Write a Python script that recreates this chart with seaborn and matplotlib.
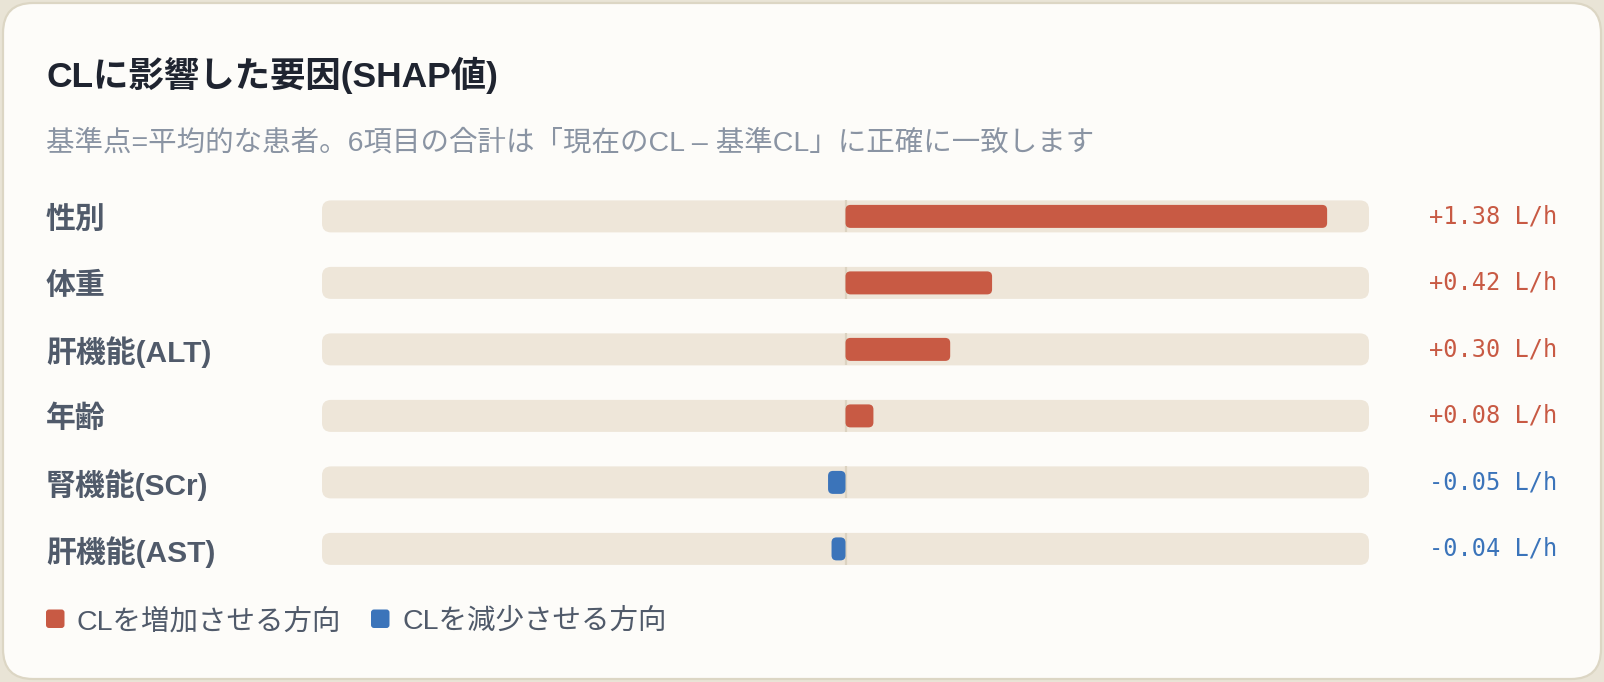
import numpy as np
import pandas as pd
import matplotlib
matplotlib.use("Agg")
import matplotlib.pyplot as plt
from matplotlib.patches import FancyBboxPatch
from matplotlib.transforms import blended_transform_factory
import seaborn as sns

# ---------------- data ----------------
features = ["性別", "体重", "肝機能(ALT)", "年齢", "腎機能(SCr)", "肝機能(AST)"]
shap_values = [1.38, 0.42, 0.30, 0.08, -0.05, -0.04]
title = "CLに影響した要因(SHAP値)"
subtitle = "基準点=平均的な患者。6項目の合計は「現在のCL – 基準CL」に正確に一致します"
legend_labels = ["CLを増加させる方向", "CLを減少させる方向"]
unit = "L/h"

# ---------------- style ----------------
sns.set_theme(style="white")
FAM = ["Liberation Sans", "Noto Sans CJK JP", "DejaVu Sans"]
plt.rcParams["font.family"] = FAM

RED = "#c85a44"
BLUE = "#3b74ba"
TRACK = "#eee6d9"
OUTER = "#e9e4d6"
CARD = "#fdfcf9"
BORDER = "#dcd6c4"
LABEL = "#505a6a"
TITLE = "#1f2430"
SUB = "#8a94a3"

W, H = 1604, 682
fig = plt.figure(figsize=(W / 100, H / 100), dpi=100)
fig.patch.set_facecolor(OUTER)

def fx(px):
    return px / W

def fy(py):
    return 1 - py / H

# card (behind everything)
card = FancyBboxPatch((0.03, 0.03), W / 100 - 0.06, H / 100 - 0.06,
                      boxstyle="round,pad=0,rounding_size=0.30",
                      transform=fig.dpi_scale_trans, facecolor=CARD,
                      edgecolor=BORDER, linewidth=1.6, zorder=-10)
fig.patches.append(card)

# axes for the bars
row_h = 66.5
y0 = 216.4 - row_h / 2
y1 = y0 + row_h * len(features)
ax_left, ax_right = 322, 1369
ax = fig.add_axes([fx(ax_left), fy(y1), (ax_right - ax_left) / W, (y1 - y0) / H])
ax.set_facecolor("none")
ax.set_zorder(1)

LIM = 1.5
df = pd.DataFrame({
    "feature": features,
    "shap": shap_values,
    "direction": ["pos" if v >= 0 else "neg" for v in shap_values],
})

track_h = 32 / row_h
bar_h = 23 / row_h
px_per_x = (ax_right - ax_left) / (2 * LIM)
aspect = px_per_x / row_h

# tracks
for i in range(len(features)):
    tr = FancyBboxPatch((-LIM, i - track_h / 2), 2 * LIM, track_h,
                        boxstyle=f"round,pad=0,rounding_size={9 / px_per_x}",
                        mutation_aspect=aspect, facecolor=TRACK,
                        edgecolor="none", zorder=1)
    ax.add_patch(tr)
    ax.plot([0, 0], [i - track_h / 2, i + track_h / 2], color="#dcd3c1",
            lw=1.6, zorder=1.5, solid_capstyle="butt")

sns.barplot(data=df, x="shap", y="feature", hue="direction",
            palette={"pos": RED, "neg": BLUE}, orient="h", dodge=False,
            width=bar_h, legend=False, saturation=1, ax=ax, zorder=2)

# replace bars with rounded ones
for p in list(ax.patches):
    if isinstance(p, FancyBboxPatch):
        continue
    x, y = p.get_x(), p.get_y()
    w, h = p.get_width(), p.get_height()
    if w == 0 or np.isnan(w):
        p.remove()
        continue
    if w < 0:
        x, w = x + w, -w
    rb = FancyBboxPatch((x, y), w, h,
                        boxstyle=f"round,pad=0,rounding_size={5 / px_per_x}",
                        mutation_aspect=aspect, facecolor=p.get_facecolor(),
                        edgecolor="none", zorder=2)
    p.remove()
    ax.add_patch(rb)

ax.set_xlim(-LIM, LIM)
ax.set_ylim(len(features) - 0.5, -0.5)
ax.axis("off")

# labels & values
trans = blended_transform_factory(fig.transFigure, ax.transData)
for i, (f, v) in enumerate(zip(features, shap_values)):
    ax.text(fx(46), i, f, transform=trans, fontsize=21.5, fontweight="bold",
            color=LABEL, ha="left", va="center_baseline", clip_on=False)
    ax.text(fx(1557), i, f"{v:+.2f} {unit}", transform=trans,
            fontsize=17, family="DejaVu Sans Mono", clip_on=False,
            color=RED if v >= 0 else BLUE, ha="right", va="center")

# title & subtitle
fig.text(fx(46), fy(72), title, fontsize=25.5, fontweight="bold", color=TITLE,
         ha="left", va="center_baseline")
fig.text(fx(46), fy(140), subtitle, fontsize=20.5, color=SUB,
         ha="left", va="center_baseline")

# legend
leg_y = 619
for k, (lab, col, x0, xt) in enumerate(zip(legend_labels, [RED, BLUE],
                                           [46, 371], [77, 402])):
    sq = FancyBboxPatch((x0 / 100, (H - leg_y - 9) / 100), 0.185, 0.185,
                        boxstyle="round,pad=0,rounding_size=0.03",
                        transform=fig.dpi_scale_trans, facecolor=col,
                        edgecolor="none", zorder=3)
    fig.patches.append(sq)
    fig.text(fx(xt), fy(leg_y), lab, fontsize=20.5, color=LABEL,
             ha="left", va="center_baseline")

fig.savefig("out.png", dpi=100, facecolor=fig.get_facecolor())
